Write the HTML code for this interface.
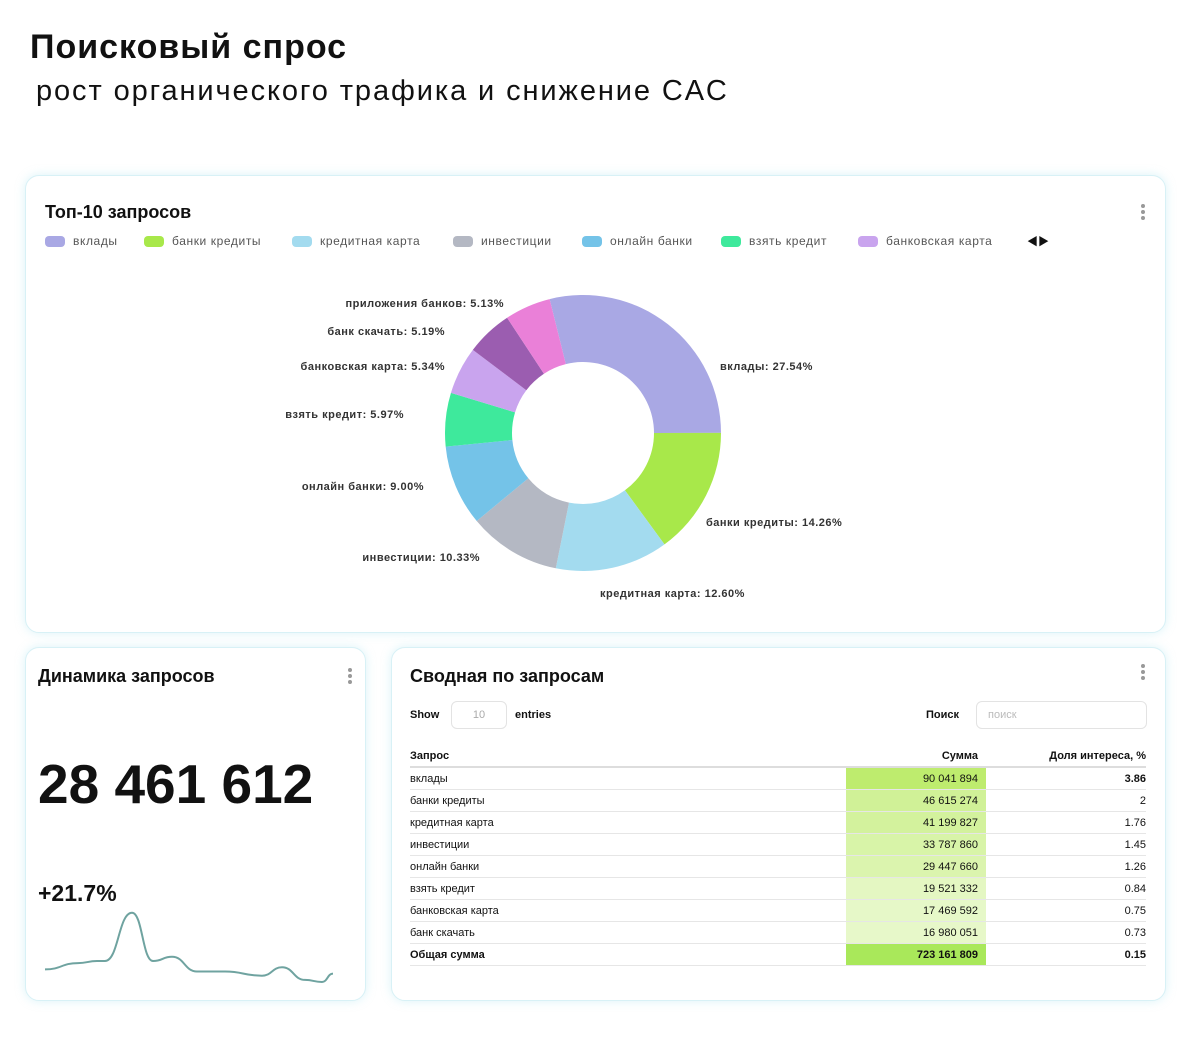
<!DOCTYPE html>
<html><head><meta charset="utf-8"><style>
body{margin:0;width:1190px;height:1050px;background:#fff;font-family:"Liberation Sans","Noto Sans CJK JP",sans-serif;color:#111;position:relative;overflow:hidden}
.card{position:absolute;background:#fff;border:1px solid #d8f1f6;border-radius:14px;box-shadow:0 0 10px rgba(150,220,235,.35)}
.t{position:absolute;white-space:nowrap}
.dots{position:absolute;width:4px}
.dots i{display:block;width:4px;height:4px;border-radius:2px;background:#999;margin-bottom:2px}
.leg{position:absolute;top:234px;font-size:12px;color:#555;display:flex;align-items:center;white-space:nowrap;letter-spacing:0.6px}
.leg b{display:inline-block;width:20px;height:11px;border-radius:4px;margin-right:8px}
table{border-collapse:collapse;position:absolute;left:410px;top:745px;width:736px;font-size:11px}
td,th{height:21px;padding:0;border-bottom:1px solid #e6e6e6}
th{font-weight:bold;text-align:left;border-bottom:2px solid #ddd}
.r{text-align:right;padding-right:8px}
</style></head><body>
<div class="t" style="left:30px;top:28px;font-size:34px;font-weight:bold;letter-spacing:1px">Поисковый спрос</div>
<div class="t" style="left:36px;top:75px;font-size:29px;letter-spacing:1.9px">рост органического трафика и снижение CAC</div>

<div class="card" style="left:25px;top:175px;width:1139px;height:456px"></div>
<div class="t" style="left:45px;top:202px;font-size:18px;font-weight:bold">Топ-10 запросов</div>
<div class="dots" style="left:1141px;top:204px"><i></i><i></i><i></i></div>
<div id="legend"></div>
<div class="t" style="left:1027px;top:233px;font-size:11px">◀▶</div>
<svg id="donut" width="1190" height="650" style="position:absolute;left:0;top:0"></svg>

<div class="card" style="left:25px;top:647px;width:339px;height:352px"></div>
<div class="t" style="left:38px;top:666px;font-size:18px;font-weight:bold">Динамика запросов</div>
<div class="dots" style="left:348px;top:668px"><i></i><i></i><i></i></div>
<div class="t" style="left:38px;top:752px;font-size:55px;font-weight:bold">28 461 612</div>
<div class="t" style="left:38px;top:880px;font-size:23px;font-weight:bold">+21.7%</div>
<svg id="spark" width="1190" height="1050" style="position:absolute;left:0;top:0;pointer-events:none"></svg>

<div class="card" style="left:391px;top:647px;width:773px;height:352px"></div>
<div class="t" style="left:410px;top:666px;font-size:18px;font-weight:bold">Сводная по запросам</div>
<div class="dots" style="left:1141px;top:664px"><i></i><i></i><i></i></div>
<div class="t" style="left:410px;top:709px;font-size:11px;font-weight:bold">Show</div>
<div class="t" style="left:451px;top:701px;width:54px;height:26px;border:1px solid #e3e3e3;border-radius:6px;font-size:11px;color:#aaa;text-align:center;line-height:26px">10</div>
<div class="t" style="left:515px;top:709px;font-size:11px;font-weight:bold">entries</div>
<div class="t" style="left:926px;top:709px;font-size:11px;font-weight:bold">Поиск</div>
<div class="t" style="left:976px;top:701px;width:158px;height:26px;border:1px solid #e3e3e3;border-radius:6px;font-size:11px;color:#bbb;line-height:26px;padding-left:11px">поиск</div>
<table>
<tr><th>Запрос</th><th class="r" style="width:132px">Сумма</th><th style="width:160px;text-align:right">Доля интереса, %</th></tr>
<tbody id="tb"></tbody>
</table>

<script>
const cats=["вклады","банки кредиты","кредитная карта","инвестиции","онлайн банки","взять кредит","банковская карта","банк скачать","приложения банков"];
const shares=[27.54,14.26,12.60,10.33,9.00,5.97,5.34,5.19,5.13];
const colors=["#a9a8e4","#a8e84a","#a3dbef","#b4b8c3","#74c3e8","#3ee99c","#c9a4ee","#9b5db0","#ea80d8"];
const legendCats=cats.slice(0,7);
const legendX=[45,144,292,453,582,721,858];
const svgNS="http://www.w3.org/2000/svg";
const lg=document.getElementById('legend');
legendCats.forEach((c,i)=>{const d=document.createElement('div');d.className='leg';d.style.left=legendX[i]+'px';


d.innerHTML='<b style="background:'+colors[i]+'"></b>'+c;lg.appendChild(d);});
const cx=583,cy=433,R=138,r=71,start=-14;
const total=shares.reduce((a,b)=>a+b,0);
const lblPos=[[720,366,'start'],[706,522,'start'],[600,593,'start'],[480,557,'end'],[424,486,'end'],[404,414,'end'],[445,366,'end'],[445,331,'end'],[504,303,'end']];
const sv=document.getElementById('donut');
let a=start;
function pt(rad,deg){const t=(deg-90)*Math.PI/180;return [cx+rad*Math.cos(t),cy+rad*Math.sin(t)];}
shares.forEach((v,i)=>{const s=v/total*360,e=a+s,lf=s>180?1:0;
const p1=pt(R,a),p2=pt(R,e),p3=pt(r,e),p4=pt(r,a);
const p=document.createElementNS(svgNS,'path');
p.setAttribute('d',`M${p1}A${R},${R} 0 ${lf} 1 ${p2}L${p3}A${r},${r} 0 ${lf} 0 ${p4}Z`);
p.setAttribute('fill',colors[i]);


sv.appendChild(p);
const t=document.createElementNS(svgNS,'text');const L=lblPos[i];
t.setAttribute('x',L[0]);t.setAttribute('y',L[1]+4);t.setAttribute('text-anchor',L[2]);
t.setAttribute('font-size','11');t.setAttribute('font-weight','bold');t.setAttribute('fill','#333');t.setAttribute('letter-spacing','0.5');
t.textContent=cats[i]+': '+v.toFixed(2)+'%';


sv.appendChild(t);a=e;});
const sparkVals=[6,9,10,10,33,10,12,5,5,3,7,1,0,4];
const sparkX=[0,33,52,60,87,108,127,152,180,217,237,260,277,288];
const sx=x=>45+x,sy=v=>982-v*2.1;
let d='M'+sx(sparkX[0])+','+sy(sparkVals[0]);
for(let i=1;i<sparkVals.length;i++){const x0=sx(sparkX[i-1]),y0=sy(sparkVals[i-1]),x1=sx(sparkX[i]),y1=sy(sparkVals[i]),m=(x0+x1)/2;d+=` C${m},${y0} ${m},${y1} ${x1},${y1}`;}
const sl=document.createElementNS(svgNS,'path');sl.setAttribute('d',d);sl.setAttribute('fill','none');sl.setAttribute('stroke','#6fa3a0');sl.setAttribute('stroke-width','2');


document.getElementById('spark').appendChild(sl);
const rows=["вклады","банки кредиты","кредитная карта","инвестиции","онлайн банки","взять кредит","банковская карта","банк скачать"];
const sums=["90 041 894","46 615 274","41 199 827","33 787 860","29 447 660","19 521 332","17 469 592","16 980 051"];
const sumNum=[90041894,46615274,41199827,33787860,29447660,19521332,17469592,16980051];
const share=["3.86","2","1.76","1.45","1.26","0.84","0.75","0.73"];
const tb=document.getElementById('tb');
rows.forEach((q,i)=>{const tr=document.createElement('tr');


const k=Math.pow((sumNum[i]-12e6)/(90e6-12e6),0.5);
const bg=`rgb(${Math.round(245-(245-190)*k)},${Math.round(252-(252-236)*k)},${Math.round(232-(232-110)*k)})`;
tr.innerHTML=`<td>${q}</td><td class="r" style="background:${bg}">${sums[i]}</td><td style="text-align:right;${i==0?'font-weight:bold':''}">${share[i]}</td>`;tb.appendChild(tr);});
const tr=document.createElement('tr');


tr.innerHTML='<td style="font-weight:bold">Общая сумма</td><td class="r" style="background:#a9e85a;font-weight:bold">723 161 809</td><td style="text-align:right;font-weight:bold">0.15</td>';tb.appendChild(tr);
</script>
</body></html>
